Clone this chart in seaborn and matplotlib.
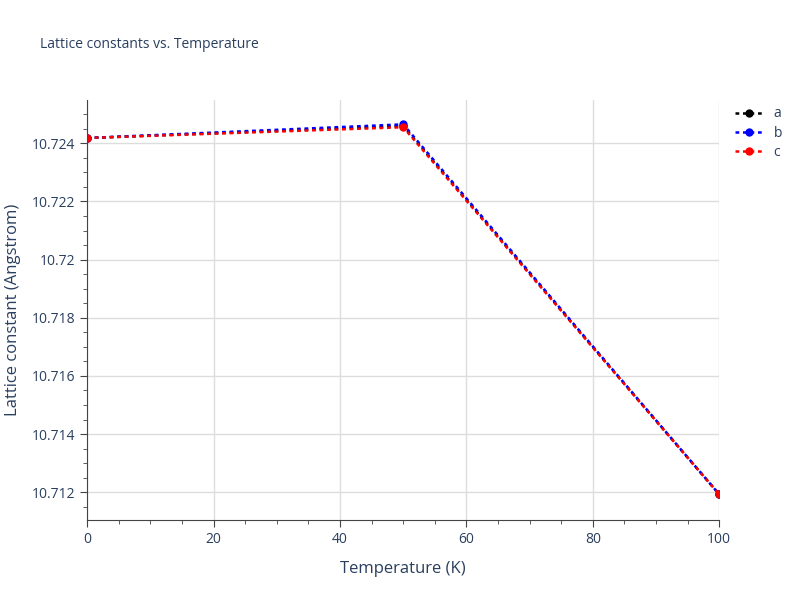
import matplotlib
matplotlib.use("Agg")
import matplotlib.pyplot as plt
import seaborn as sns
import pandas as pd
from matplotlib.ticker import MultipleLocator

temps = [0, 50, 100]
a_vals = [10.72418, 10.72459, 10.71193]
b_vals = [10.72418, 10.72465, 10.71193]
c_vals = [10.72418, 10.72455, 10.71193]
names = ["a", "b", "c"]
colors = ["black", "blue", "red"]

sns.set_style("white")
plt.rcParams['font.family'] = ['Open Sans', 'DejaVu Sans']
fig = plt.figure(figsize=(8, 6), dpi=100)
ax = fig.add_axes([0.109, 0.133, 0.79, 0.7])
for n, vals, col in zip(names, [a_vals, b_vals, c_vals], colors):
    df = pd.DataFrame({"T": temps, "v": vals})
    sns.lineplot(data=df, x="T", y="v", ax=ax, color=col, linestyle=(0, (1.5, 1.5)),
                 linewidth=1.8, marker="o", markersize=6, markeredgewidth=0, label=n)
ax.set_xlim(0, 100)
ax.set_ylim(10.71104, 10.72548)
ax.set_yticks([10.712, 10.714, 10.716, 10.718, 10.72, 10.722, 10.724])
ax.set_yticklabels(["10.712", "10.714", "10.716", "10.718", "10.72", "10.722", "10.724"])
ax.set_xticks([0, 20, 40, 60, 80, 100])
ax.xaxis.set_minor_locator(MultipleLocator(5))
ax.yaxis.set_minor_locator(MultipleLocator(0.0005))
ax.grid(True, color="#dddddd", linewidth=1)
ax.tick_params(axis="both", which="major", colors="#444444", labelcolor="#2a3f5f", labelsize=10, length=5, direction="out")
ax.tick_params(axis="both", which="minor", colors="#444444", length=3, direction="out")
ax.tick_params(left=True, bottom=True, which="both")
for s in ["top", "right"]:
    ax.spines[s].set_visible(False)
ax.spines["left"].set_color("#444444")
ax.spines["bottom"].set_color("#444444")
ax.set_xlabel("Temperature (K)", fontsize=12, color="#2a3f5f", labelpad=10)
ax.set_ylabel("Lattice constant (Angstrom)", fontsize=12, color="#2a3f5f", labelpad=8)
fig.text(0.05, 0.92, "Lattice constants vs. Temperature", fontsize=10, color="#2a3f5f")
leg = ax.legend(loc="upper left", bbox_to_anchor=(1.005, 1.015), frameon=False, fontsize=10,
                handlelength=2, labelspacing=0.3)
for t in leg.get_texts():
    t.set_color("#2a3f5f")
fig.savefig("out.png", dpi=100)
